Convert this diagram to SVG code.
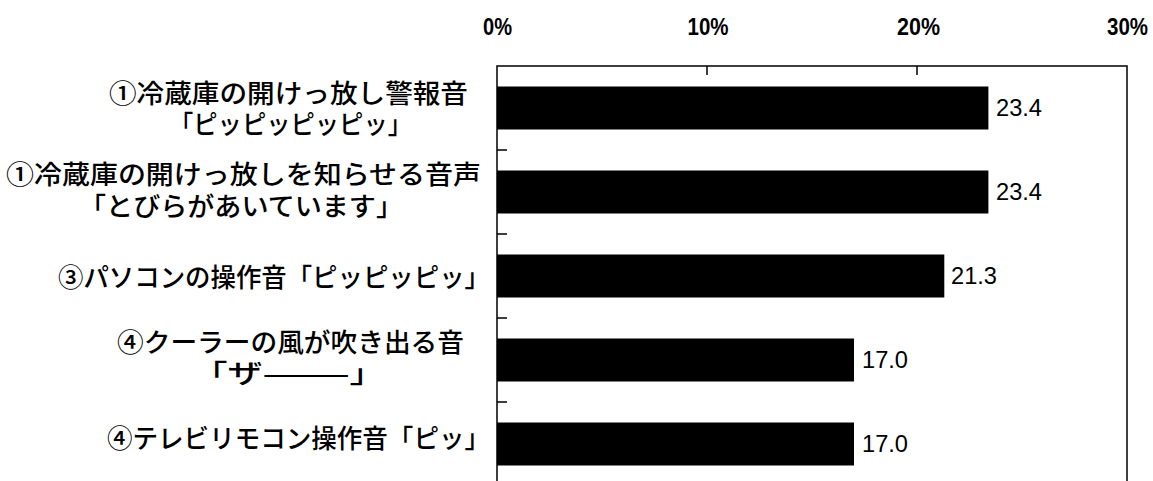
<svg xmlns="http://www.w3.org/2000/svg" width="1153" height="481" viewBox="0 0 1153 481">
<style>
.cat{font-family:"Noto Sans CJK JP","Noto Sans CJK SC",sans-serif;font-size:26px;font-weight:500;fill:#000;}
.mid{text-anchor:middle;}
.ax{font-family:"Liberation Sans",Arial,sans-serif;font-size:24px;font-weight:bold;fill:#000;text-anchor:middle;}
.val{font-family:"Liberation Sans",Arial,sans-serif;font-size:24px;fill:#000;}
.bar{fill:#000;}
.frame{fill:none;stroke:#000;stroke-width:1.5;}
.tick{stroke:#000;stroke-width:1.5;}
</style>
<rect width="1153" height="481" fill="#fff"/>
<g id="axis">
  <text class="ax" x="497.5" y="35" textLength="29" lengthAdjust="spacingAndGlyphs">0%</text>
  <text class="ax" x="708" y="35" textLength="41" lengthAdjust="spacingAndGlyphs">10%</text>
  <text class="ax" x="918.5" y="35" textLength="43" lengthAdjust="spacingAndGlyphs">20%</text>
  <text class="ax" x="1127.5" y="35" textLength="41" lengthAdjust="spacingAndGlyphs">30%</text>
  <path class="frame" d="M497,490 V66 H1127 V490"/>
  <path class="tick" d="M707,66 V75 M917,66 V75 M497,150 H507 M497,234 H507 M497,318 H507 M497,402 H507"/>
</g>
<g id="connectors"></g>
<g id="item1">
  <text class="cat" x="109" y="103" textLength="359" lengthAdjust="spacingAndGlyphs">①冷蔵庫の開けっ放し警報音</text>
  <text class="cat mid" x="290.5" y="134" textLength="243" lengthAdjust="spacingAndGlyphs">「ピッピッピッピッ」</text>
  <rect class="bar" x="497" y="86.5" width="491.4" height="43"/>
  <text class="val" x="996" y="116" textLength="46" lengthAdjust="spacingAndGlyphs">23.4</text>
</g>
<g id="item2">
  <text class="cat" x="6" y="184" textLength="475" lengthAdjust="spacingAndGlyphs">①冷蔵庫の開けっ放しを知らせる音声</text>
  <text class="cat mid" x="241" y="216" textLength="324" lengthAdjust="spacingAndGlyphs">「とびらがあいています」</text>
  <rect class="bar" x="497" y="170.5" width="491.4" height="43"/>
  <text class="val" x="996" y="200" textLength="46" lengthAdjust="spacingAndGlyphs">23.4</text>
</g>
<g id="item3">
  <text class="cat" x="58" y="287" textLength="432" lengthAdjust="spacingAndGlyphs">③パソコンの操作音「ピッピッピッ」</text>
  <rect class="bar" x="497" y="254.5" width="447.3" height="43"/>
  <text class="val" x="951" y="284" textLength="46" lengthAdjust="spacingAndGlyphs">21.3</text>
</g>
<g id="item4">
  <text class="cat" x="117" y="352" textLength="347" lengthAdjust="spacingAndGlyphs">④クーラーの風が吹き出る音</text>
  <text class="cat mid" x="288.5" y="383" textLength="192" lengthAdjust="spacingAndGlyphs">「ザ———」</text>
  <rect class="bar" x="497" y="338.5" width="357" height="43"/>
  <text class="val" x="862" y="368" textLength="46" lengthAdjust="spacingAndGlyphs">17.0</text>
</g>
<g id="item5">
  <text class="cat" x="107" y="448" textLength="383" lengthAdjust="spacingAndGlyphs">④テレビリモコン操作音「ピッ」</text>
  <rect class="bar" x="497" y="422.5" width="357" height="43"/>
  <text class="val" x="862" y="452" textLength="46" lengthAdjust="spacingAndGlyphs">17.0</text>
</g>
</svg>
